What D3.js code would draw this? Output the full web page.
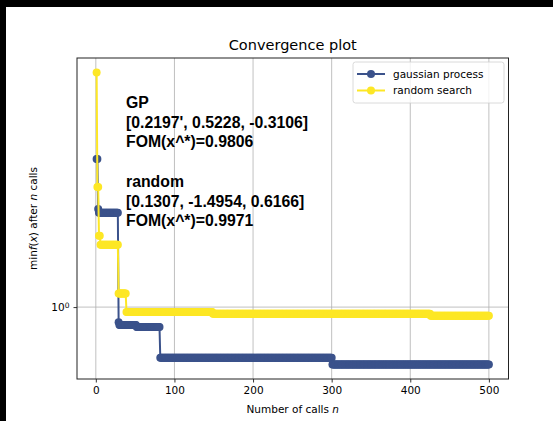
<!DOCTYPE html>
<html>
<head>
<meta charset="utf-8">
<script src="https://cdn.jsdelivr.net/npm/d3@7"></script>
<style>
  html, body { margin: 0; padding: 0; background: #fff; }
  svg { display: block; }
</style>
</head>
<body>
<svg id="chart" width="553" height="421"></svg>
<script>
// Best objective found so far, stored as steps: the call at which a new
// minimum appears and the value it holds until the next improvement.
const nCalls = 500;
const gpStepCalls   = [1,       3,       4,       29,      30,      52,      82,      301];
const gpStepValues  = [1.05171, 1.03403, 1.03263, 0.99483, 0.99389, 0.99321, 0.98285, 0.98066];
const rsStepCalls   = [1,       2,       4,       6,       29,      39,      149,     426];
const rsStepValues  = [1.08318, 1.04177, 1.02461, 1.02149, 1.00466, 0.99831, 0.99776, 0.99709];

const seriesNames  = ["gaussian process", "random search"];
const seriesColors = ["#3b528b", "#fde725"];
const xTickValues  = [0, 100, 200, 300, 400, 500];
const yTickValues  = [1];

const gpText = ["GP", "[0.2197', 0.5228, -0.3106]", "FOM(x^*)=0.9806"];
const rsText = ["random", "[0.1307, -1.4954, 0.6166]", "FOM(x^*)=0.9971"];

// Expand the step lists into one point per call.
function expandSteps(calls, values) {
  const pts = [];
  let k = 0;
  for (let n = 1; n <= nCalls; n++) {
    while (k + 1 < calls.length && n >= calls[k + 1]) k++;
    pts.push({ n: n, v: values[k] });
  }
  return pts;
}
const series = [
  expandSteps(gpStepCalls, gpStepValues),
  expandSteps(rsStepCalls, rsStepValues)
];

const svg = d3.select("#chart");
const pLeft = 77, pRight = 508.5, pTop = 58, pBottom = 379;

// x: linear with 5% padding around the data range
const xPad = (nCalls - 1) * 0.05;
const x = d3.scaleLinear().domain([1 - xPad, nCalls + xPad]).range([pLeft, pRight]);

// y: log scale, 5% padding in log space
const allV = series.flat().map(d => d.v);
const lLo = Math.log10(d3.min(allV)), lHi = Math.log10(d3.max(allV));
const lPad = (lHi - lLo) * 0.05;
const y = d3.scaleLog().domain([Math.pow(10, lLo - lPad), Math.pow(10, lHi + lPad)]).range([pBottom, pTop]);

// dark frame strips at the top and left edge
svg.append("rect").attr("x", 0).attr("y", 0).attr("width", 553).attr("height", 7).attr("fill", "#000");
svg.append("rect").attr("x", 0).attr("y", 0).attr("width", 6).attr("height", 421).attr("fill", "#000");

// grid
const grid = svg.append("g").attr("stroke", "#b0b0b0").attr("stroke-width", 0.8);
xTickValues.forEach(t => {
  grid.append("line").attr("x1", x(t)).attr("x2", x(t)).attr("y1", pTop).attr("y2", pBottom);
});
yTickValues.forEach(t => {
  grid.append("line").attr("x1", pLeft).attr("x2", pRight).attr("y1", y(t)).attr("y2", y(t));
});

// series: lines with a marker at every call
const markerR = 4;
const line = d3.line().x(d => x(d.n)).y(d => y(d.v));
series.forEach((pts, i) => {
  const g = svg.append("g");
  g.append("path").datum(pts)
    .attr("d", line).attr("fill", "none")
    .attr("stroke", seriesColors[i]).attr("stroke-width", 2);
  g.selectAll("circle").data(pts).join("circle")
    .attr("cx", d => x(d.n)).attr("cy", d => y(d.v)).attr("r", markerR)
    .attr("fill", seriesColors[i]);
});

// axes
const fontFam = "'DejaVu Sans', sans-serif";
const xAxis = svg.append("g").attr("transform", `translate(0,${pBottom})`)
  .call(d3.axisBottom(x).tickValues(xTickValues).tickSize(3.5).tickPadding(4).tickFormat(d3.format("d")));
xAxis.select(".domain").remove();
xAxis.selectAll("text").attr("font-family", fontFam).attr("font-size", "10.5px").attr("fill", "#000");
xAxis.selectAll("line").attr("stroke", "#000").attr("stroke-width", 0.8);

const yAxis = svg.append("g").attr("transform", `translate(${pLeft},0)`)
  .call(d3.axisLeft(y).tickValues(yTickValues).tickSize(3.5).tickPadding(4).tickFormat(() => ""));
yAxis.select(".domain").remove();
yAxis.selectAll("line").attr("stroke", "#000").attr("stroke-width", 0.8);
yAxis.selectAll(".tick text").each(function(d) {
  const t = d3.select(this).attr("font-family", fontFam).attr("font-size", "10.5px").attr("fill", "#000");
  t.append("tspan").text("10");
  t.append("tspan").attr("dy", "-0.45em").attr("font-size", "7.5px").text(String(Math.round(Math.log10(d))));
});

// frame
svg.append("rect").attr("x", pLeft).attr("y", pTop).attr("width", pRight - pLeft).attr("height", pBottom - pTop)
  .attr("fill", "none").attr("stroke", "#222").attr("stroke-width", 1);

// title and axis labels
svg.append("text").attr("x", (pLeft + pRight) / 2).attr("y", 50).attr("text-anchor", "middle")
  .attr("font-family", fontFam).attr("font-size", "14.5px").text("Convergence plot");

const xl = svg.append("text").attr("x", (pLeft + pRight) / 2).attr("y", 413).attr("text-anchor", "middle")
  .attr("font-family", fontFam).attr("font-size", "10.5px");
xl.append("tspan").text("Number of calls ");
xl.append("tspan").attr("font-style", "italic").text("n");

const yl = svg.append("text").attr("transform", `translate(37,${(pTop + pBottom) / 2}) rotate(-90)`)
  .attr("text-anchor", "middle").attr("font-family", fontFam).attr("font-size", "10.5px");
yl.append("tspan").text("min");
yl.append("tspan").attr("font-style", "italic").text("f");
yl.append("tspan").text("(");
yl.append("tspan").attr("font-style", "italic").text("x");
yl.append("tspan").text(") after ");
yl.append("tspan").attr("font-style", "italic").text("n");
yl.append("tspan").text(" calls");

// annotations
const annFont = "'Liberation Sans', Arial, sans-serif";
function block(lines, y0) {
  const t = svg.append("text").attr("font-family", annFont).attr("font-weight", "bold")
    .attr("font-size", "15.8px").attr("fill", "#000");
  lines.forEach((s, i) => t.append("tspan").attr("x", 126).attr("y", y0 + i * 19.5).text(s));
}
block(gpText, 108);
block(rsText, 187);

// legend
const lg = svg.append("g");
lg.append("rect").attr("x", 353).attr("y", 62).attr("width", 151).attr("height", 41).attr("rx", 2.5)
  .attr("fill", "#fff").attr("fill-opacity", 0.8).attr("stroke", "#d0d0d0").attr("stroke-width", 0.8);
seriesNames.forEach((name, i) => {
  const ly = 74 + i * 16.5;
  lg.append("line").attr("x1", 357).attr("x2", 385).attr("y1", ly).attr("y2", ly)
    .attr("stroke", seriesColors[i]).attr("stroke-width", 2);
  lg.append("circle").attr("cx", 371).attr("cy", ly).attr("r", markerR).attr("fill", seriesColors[i]);
  lg.append("text").attr("x", 393).attr("y", ly + 3.8).attr("font-family", fontFam)
    .attr("font-size", "10.5px").text(name);
});
</script>
</body>
</html>
